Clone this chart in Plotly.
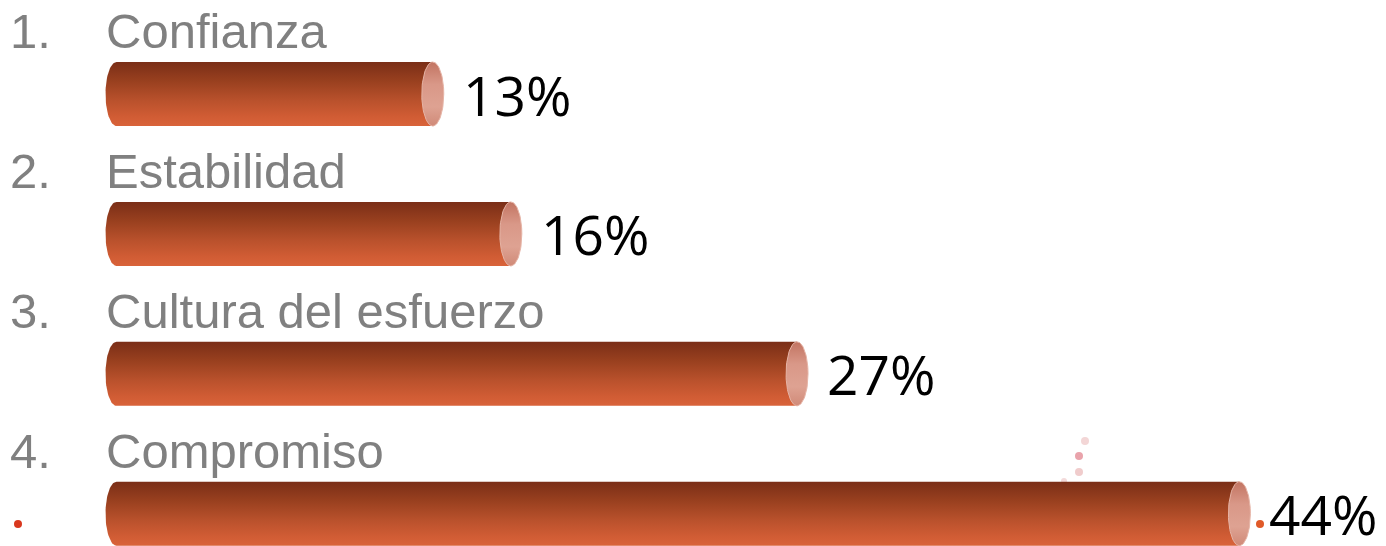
import numpy as np
import plotly.graph_objects as go

categories = ["Confianza", "Estabilidad", "Cultura del esfuerzo", "Compromiso"]
numbers = ["1.", "2.", "3.", "4."]
values = [13, 16, 27, 44]
value_labels = ["13%", "16%", "27%", "44%"]

# the page body adds an 8px margin; the figure fills the rest of the window
OFF = 8
W, H = 1386 - OFF, 546 - OFF
PX_PER_UNIT_X = 26.02
ZERO_PX = 105.5 - OFF
ROW_PX = 139.9
ROW0_PX = 94.0 - OFF
BAR_HALF_PX = 32.0
CAP_RX_PX = 11.0

x_range = [-ZERO_PX / PX_PER_UNIT_X, (W - ZERO_PX) / PX_PER_UNIT_X]
y_range = [(H - ROW0_PX) / ROW_PX, -ROW0_PX / ROW_PX]
h = BAR_HALF_PX / ROW_PX
rx = CAP_RX_PX / PX_PER_UNIT_X

body_scale = [[0.0, "#7a2e17"], [0.3, "#99401f"], [0.6, "#b9512c"], [0.85, "#d05c34"], [1.0, "#d9633a"]]
cap_scale = [[0.0, "#c27462"], [0.35, "#d99888"], [0.7, "#dea292"], [1.0, "#d08a78"]]

fig = go.Figure()
for i, (cat, v) in enumerate(zip(categories, values)):
    yc = i
    t1 = np.linspace(np.pi / 2, 3 * np.pi / 2, 40)
    bx = list(rx + rx * np.cos(t1)) + [v - rx, v - rx]
    by = list(yc - h * np.sin(t1)) + [yc + h, yc - h]
    bx.append(bx[0]); by.append(by[0])
    fig.add_trace(go.Scatter(
        x=bx, y=by, mode="lines", fill="toself", line=dict(width=0),
        fillgradient=dict(type="vertical", colorscale=body_scale, start=yc - h, stop=yc + h),
        hoverinfo="skip", showlegend=False))
    t2 = np.linspace(0, 2 * np.pi, 80)
    cx = v - rx + rx * np.cos(t2)
    cy = yc + h * np.sin(t2)
    fig.add_trace(go.Scatter(
        x=cx, y=cy, mode="lines", fill="toself", line=dict(width=1, color="#e6b4a6"),
        fillgradient=dict(type="vertical", colorscale=cap_scale, start=yc - h, stop=yc + h),
        hoverinfo="skip", showlegend=False))

    fig.add_annotation(x=0, y=yc, xref="x", yref="y", text=cat, showarrow=False,
                       xanchor="left", yanchor="middle", yshift=63, xshift=-2,
                       font=dict(family="Liberation Sans, Arial", size=49, color="#808080"))
    fig.add_annotation(x=0, y=yc, xref="paper", yref="y", text=numbers[i], showarrow=False,
                       xanchor="left", yanchor="middle", yshift=63,
                       font=dict(family="Liberation Sans, Arial", size=49, color="#808080"))
    fig.add_annotation(x=v, y=yc, xref="x", yref="y", text=value_labels[i], showarrow=False,
                       xanchor="left", yanchor="middle", xshift=17, yshift=0,
                       font=dict(family="Open Sans", size=55, color="#000000"))

# decorative dots (background ornament), page pixel positions
dots = [(18, 524, 4, "#d9381e"), (1260, 524, 4, "#e05a28"), (1383, 516, 3, "#e0603a"),
        (1085, 441, 4, "#f3d6d6"), (1079, 456, 4, "#e9a3ab"), (1079, 472, 4, "#f0cccc"),
        (1064, 481, 3, "#f3dada")]
for (px, py, r, c) in dots:
    px -= OFF; py -= OFF
    fig.add_shape(type="circle", xref="paper", yref="paper",
                  x0=(px - r) / W, x1=(px + r) / W, y0=1 - (py + r) / H, y1=1 - (py - r) / H,
                  fillcolor=c, line=dict(width=0), layer="below")

fig.update_xaxes(range=x_range, visible=False, showgrid=False, zeroline=False)
fig.update_yaxes(range=y_range, visible=False, showgrid=False, zeroline=False)
fig.update_layout(width=W, height=H, margin=dict(l=0, r=0, t=0, b=0),
                  plot_bgcolor="white", paper_bgcolor="white", showlegend=False)

fig.write_html("out.html")
